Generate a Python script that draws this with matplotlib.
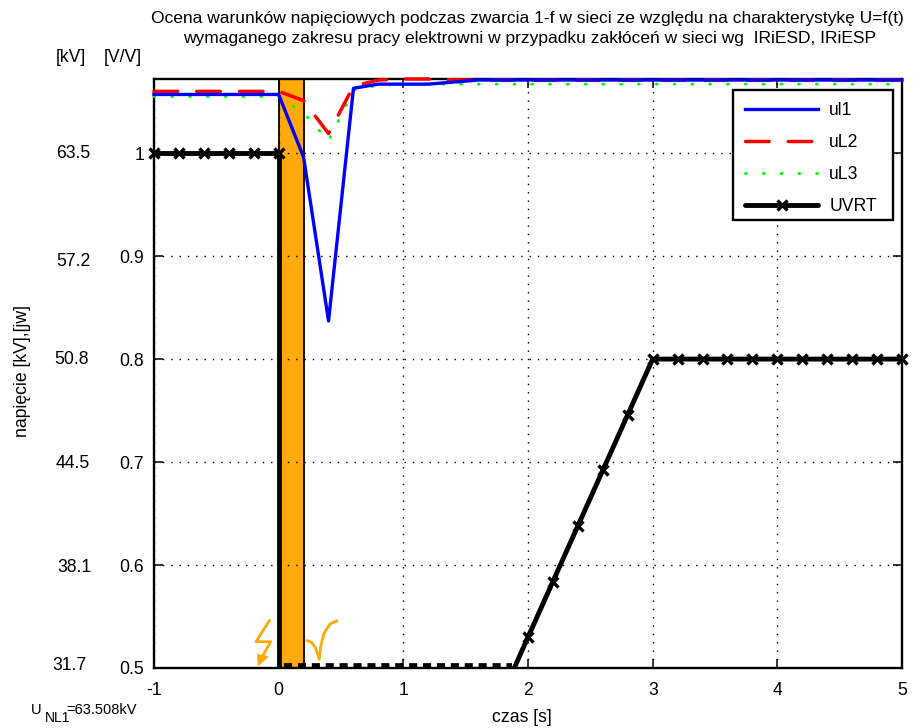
import matplotlib
matplotlib.use('Agg')
import matplotlib.pyplot as plt
from matplotlib.lines import Line2D
from matplotlib.patches import Rectangle

plt.rcParams['font.family'] = ['Liberation Sans', 'DejaVu Sans']
FS = 12.7

W, H = 915, 728

# time axis of the measured waveforms
t = [-1, -0.8, -0.6, -0.4, -0.2, 0, 0.2, 0.4, 0.6, 0.8, 1.0, 1.2, 1.4, 1.6, 2, 3, 4, 5]
ul1 = [1.057, 1.057, 1.057, 1.057, 1.057, 1.057, 0.996, 0.837, 1.063, 1.067, 1.067, 1.067, 1.069, 1.071, 1.071, 1.071, 1.071, 1.071]
ul2 = [1.060, 1.060, 1.060, 1.060, 1.060, 1.060, 1.051, 1.019, 1.065, 1.071, 1.072, 1.072, 1.071, 1.071, 1.071, 1.071, 1.071, 1.071]
ul3 = [1.055, 1.055, 1.055, 1.055, 1.055, 1.055, 1.039, 1.012, 1.061, 1.066, 1.067, 1.067, 1.067, 1.067, 1.067, 1.067, 1.067, 1.067]

# UVRT characteristic
t_before = [-1, -0.8, -0.6, -0.4, -0.2, 0, 0]
uvrt_before = [1, 1, 1, 1, 1, 1, 0.5]
t_low = [0.045, 1.87]
uvrt_low = [0.5, 0.5]
t_ramp = [1.89, 2, 2.2, 2.4, 2.6, 2.8, 3, 3.2, 3.4, 3.6, 3.8, 4, 4.2, 4.4, 4.6, 4.8, 5]
uvrt_ramp = [0.5, 0.53, 0.584, 0.638, 0.692, 0.746, 0.8, 0.8, 0.8, 0.8, 0.8, 0.8, 0.8, 0.8, 0.8, 0.8, 0.8]

pu_ticks = [0.5, 0.6, 0.7, 0.8, 0.9, 1]
pu_labels = ['0.5', '0.6', '0.7', '0.8', '0.9', '1']
kv_labels = ['31.7', '38.1', '44.5', '50.8', '57.2', '63.5']
x_ticks = [-1, 0, 1, 2, 3, 4, 5]

# where the kV column sits in the picture (pixels)
kv_x = [69, 74, 73, 72, 73, 73]
kv_y = [666, 567, 464, 360, 261, 154]

# hand drawn orange marks, pixels of the picture
bolt_x = [269.3, 256, 270.7, 262.3]
bolt_y = [620.7, 641.7, 641.7, 656.7]
head_x = [258.3, 257.3, 268.3]
head_y = [665.7, 654.3, 656.7]
hook_x = [307.3, 311.7, 315.7, 319.3, 320.7, 324, 330, 336.7]
hook_y = [640.7, 642.3, 648.3, 659.3, 646.7, 633.3, 624, 621]


def px_x(v):
    return [-1 + (p - 154) * 6 / 748 for p in v]


def px_y(v):
    return [0.5 + (668 - p) * 0.572 / 589 for p in v]


fig = plt.figure(figsize=(W / 100, H / 100), dpi=100)
ax = fig.add_axes([154 / W, 1 - 668 / H, (902 - 154) / W, (668 - 79) / H])
ax.set_xlim(-1, 5)
ax.set_ylim(0.5, 1.072)

ax.axvspan(0, 0.2, facecolor='#ffa90a', edgecolor='black', lw=1.3, zorder=1)
ax.grid(True, color='black', linestyle=(0, (1, 5)), lw=1.0, zorder=1.5)
ax.set_axisbelow(False)

dash = (0, (6.8, 5.5))
dots = (0, (0.3, 5.8))
ax.plot(t, ul3, color='#00ff00', lw=2.1, linestyle=dots, dash_capstyle='round', zorder=7, clip_on=False)
ax.plot(t, ul2, color='#ff0000', lw=2.5, linestyle=dash, dash_capstyle='round', zorder=7.1, clip_on=False)
ax.plot(t, ul1, color='#0000ff', lw=2.4, zorder=7.2, clip_on=False)

black = dict(color='black', lw=3.5, marker='x', ms=6.5, mew=2.4, zorder=8, solid_capstyle='butt', clip_on=False)
ax.plot(t_before, uvrt_before, markevery=[0, 1, 2, 3, 4, 5], **black)
ax.plot(t_ramp, uvrt_ramp, markevery=list(range(1, 17)), **black)
ax.plot(t_low, uvrt_low, color='black', lw=7, linestyle=(0, (0.83, 0.6)), dash_capstyle='butt', zorder=4)

ax.plot(px_x(bolt_x), px_y(bolt_y), color='#ffa90a', lw=2, zorder=5)
ax.fill(px_x(head_x), px_y(head_y), color='#ffa90a', lw=0.5, zorder=5)
ax.plot(px_x(hook_x), px_y(hook_y), color='#ffa90a', lw=2, zorder=5)

ax.set_xticks(x_ticks)
ax.set_xticklabels([str(v) for v in x_ticks])
ax.set_yticks(pu_ticks)
ax.set_yticklabels(pu_labels)
ax.tick_params(direction='in', length=6.5, width=1.1, top=True, right=True, labelsize=FS)
ax.tick_params(axis='y', pad=7)
ax.tick_params(axis='x', pad=10)
for side in ax.spines.values():
    side.set_linewidth(1.7)
    side.set_zorder(6)

for x, y, lab in zip(kv_x, kv_y, kv_labels):
    fig.text(x / W, 1 - y / H, lab, ha='center', va='center', fontsize=FS)

# legend box is drawn apart so it can have the size of the original
ax.add_patch(Rectangle((733 / W, 1 - 220 / H), 160 / W, 130 / H, transform=fig.transFigure, facecolor='white',
                       edgecolor='black', lw=1.7, zorder=8.9, clip_on=False))
handles = [
    Line2D([], [], color='#0000ff', lw=2.4),
    Line2D([], [], color='#ff0000', lw=2.5, linestyle=dash, dash_capstyle='round'),
    Line2D([], [], color='#00ff00', lw=2.1, linestyle=dots, dash_capstyle='round'),
    Line2D([], [], color='black', lw=3.5, marker='x', ms=6.5, mew=2.4, solid_capstyle='round'),
]
leg = ax.legend(handles, ['ul1', 'uL2', 'uL3', 'UVRT'], loc='upper left', numpoints=1,
                bbox_to_anchor=(733 / W, 1 - 90 / H), bbox_transform=fig.transFigure,
                frameon=False, fontsize=FS,
                borderpad=0.7, labelspacing=0.85, handlelength=4.1, handletextpad=0.65, borderaxespad=0)
leg.set_zorder(9)

fig.text(527 / W, 1 - 19 / H, 'Ocena warunków napięciowych podczas zwarcia 1-f w sieci ze względu na charakterystykę U=f(t)',
         ha='center', va='center', fontsize=12.55)
fig.text(530 / W, 1 - 39 / H, 'wymaganego zakresu pracy elektrowni w przypadku zakłóceń w sieci wg  IRiESD, IRiESP',
         ha='center', va='center', fontsize=12.55)
fig.text(71 / W, 1 - 58 / H, '[kV]', ha='center', va='center', fontsize=FS)
fig.text(123 / W, 1 - 57 / H, '[V/V]', ha='center', va='center', fontsize=FS)
fig.text(522 / W, 1 - 718 / H, 'czas [s]', ha='center', va='center', fontsize=FS)
fig.text(23 / W, 1 - 371 / H, 'napięcie [kV],[jw]', ha='center', va='center', rotation=90, fontsize=FS)
fig.text(30.5 / W, 1 - 710 / H, 'U', ha='left', va='center', fontsize=10.5)
fig.text(45 / W, 1 - 718 / H, 'NL1', ha='left', va='center', fontsize=10)
fig.text(66.5 / W, 1 - 710 / H, '=63.508kV', ha='left', va='center', fontsize=10.5)

fig.savefig('out.png', dpi=100)
